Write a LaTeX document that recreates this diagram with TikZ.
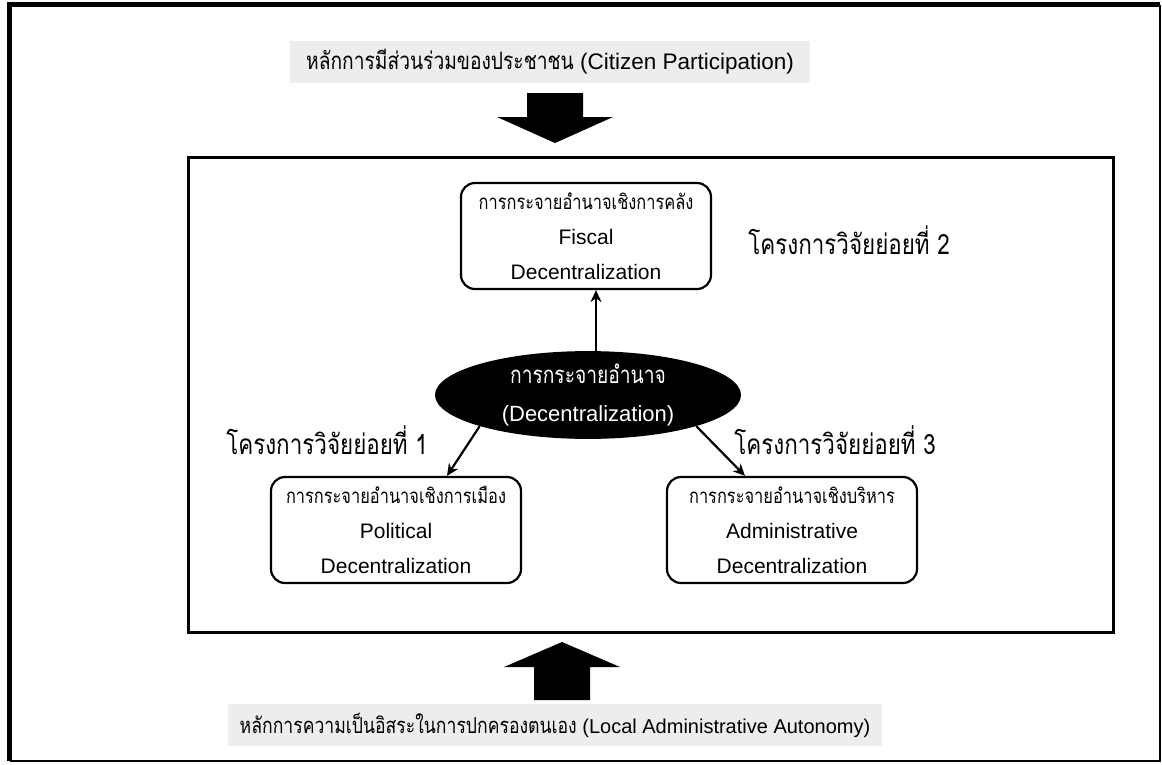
\documentclass[tikz,border=0pt]{standalone}
\usepackage{fontspec}
\setmainfont{Liberation Sans}
\newfontfamily\thaifont[Script=Thai,FakeStretch=0.8]{Loma}
\usetikzlibrary{shapes.geometric,arrows.meta,positioning}
\newcommand{\thx}[2][20.5]{{\thaifont\fontsize{#1}{#1}\selectfont #2}}
\begin{document}
\begin{tikzpicture}[x=1pt,y=-1pt]
    % Define Styles
        \tikzset{subbox/.style={rectangle, draw, rounded corners=14pt, line width=2.2pt, align=center, minimum width=250pt, minimum height=106pt, font=\fontsize{21}{35}\selectfont}}
        \tikzset{core/.style={ellipse, fill=black, text=white, align=center, minimum width=306pt, minimum height=84pt, inner sep=0pt, font=\fontsize{22}{38}\selectfont}}
        \tikzset{band/.style={rectangle, fill=black!7, inner sep=0pt, minimum height=42pt, font=\fontsize{20}{25}\selectfont}}
        \tikzset{tag/.style={font=\thaifont\fontsize{28}{30}\selectfont}}
        \tikzset{link/.style={draw, -{Stealth[length=12pt,width=11pt]}, line width=2.2pt}}
        \useasboundingbox (0,0) rectangle (1162,764);
        \draw[line width=5pt] (9.5,761) -- (9.5,4.5) -- (1160,4.5);
        \draw[line width=2pt] (1160,4.5) -- (1160,761) -- (9.5,761);
    % Frame
        \draw[line width=3pt] (188,157) rectangle (1113,632);
    % Place nodes
        \node [band, minimum width=520pt, font=\fontsize{22.5}{25}\selectfont] (citizen) at (550,62) {\thx[24]{หลักการมีส่วนร่วมของประชาชน} (Citizen Participation)};
        \node [band, minimum width=654pt] (autonomy) at (555,725) {\thx[22]{หลักการความเป็นอิสระในการปกครองตนเอง} (Local Administrative Autonomy)};
        \node [subbox] (fiscal) at (586,236) {\thx{การกระจายอำนาจเชิงการคลัง}\\Fiscal\\Decentralization};
        \node [core] (decent) at (588,395) {\thx[24]{การกระจายอำนาจ}\\(Decentralization)};
        \node [subbox] (political) at (396,530) {\thx{การกระจายอำนาจเชิงการเมือง}\\Political\\Decentralization};
        \node [subbox] (admin) at (792,530) {\thx{การกระจายอำนาจเชิงบริหาร}\\Administrative\\Decentralization};
        \node [tag] (proj2) at (849,240) {โครงการวิจัยย่อยที่ 2};
        \node [tag] (proj1) at (327,440) {โครงการวิจัยย่อยที่ 1};
        \node [tag] (proj3) at (835,440) {โครงการวิจัยย่อยที่ 3};
    % Block arrows
        \fill[shift={(555,143)}] (0,0) -- (-58,-26) -- (-28,-26) -- (-28,-50) -- (28,-50) -- (28,-26) -- (58,-26) -- cycle;
        \fill[shift={(562,642)}] (0,0) -- (58,25) -- (28,25) -- (28,58) -- (-28,58) -- (-28,25) -- (-58,25) -- cycle;
    % Edges
        \draw[link] ([xshift=8pt]decent.north) -- ([xshift=10pt]fiscal.south);
        \draw[link] (decent.south west) -- ([xshift=51pt]political.north);
        \draw[link] (decent.south east) -- ([xshift=-47pt]admin.north);
\end{tikzpicture}
\end{document}
